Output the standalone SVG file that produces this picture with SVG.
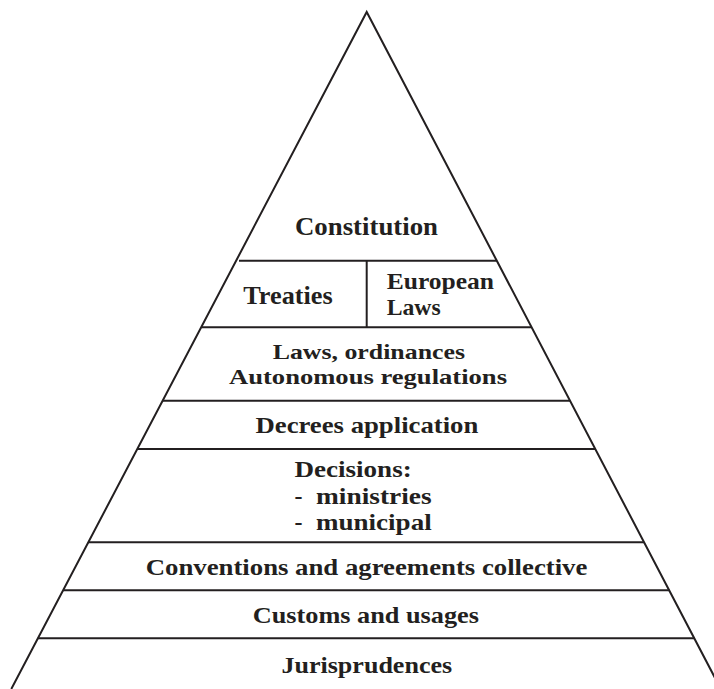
<svg xmlns="http://www.w3.org/2000/svg" width="714" height="689" viewBox="0 0 714 689">
  <style>
    .edge { stroke: #231f20; stroke-width: 2; fill: none; stroke-linecap: butt; }
    .lbl { font-family: "Liberation Serif", "Times New Roman", serif; font-weight: bold; font-size: 24px; fill: #231f20; }
    .big { font-size: 25px; }
    .tight { font-size: 22px; }
  </style>
  <rect x="0" y="0" width="714" height="689" fill="#ffffff"/>

  <!-- outline of the pyramid and the band dividers -->
  <g id="connectors">
    <polyline class="edge" points="11.3,689 366.7,12 720.8,689"/>
    <line class="edge" x1="239" y1="260.7" x2="496.8" y2="260.7"/>
    <line class="edge" x1="201.2" y1="327.3" x2="531.6" y2="327.3"/>
    <line class="edge" x1="366.7" y1="260.7" x2="366.7" y2="327.3"/>
    <line class="edge" x1="162.6" y1="400.7" x2="570" y2="400.7"/>
    <line class="edge" x1="137.3" y1="449" x2="595.2" y2="449"/>
    <line class="edge" x1="88.3" y1="542.3" x2="644" y2="542.3"/>
    <line class="edge" x1="63.1" y1="590.3" x2="669.2" y2="590.3"/>
    <line class="edge" x1="37.9" y1="638.3" x2="694.3" y2="638.3"/>
  </g>

  <g id="constitution">
    <text class="lbl big" x="295" y="235" textLength="143" lengthAdjust="spacingAndGlyphs">Constitution</text>
  </g>

  <g id="treaties">
    <text class="lbl big" x="243.3" y="304" textLength="89.4" lengthAdjust="spacingAndGlyphs">Treaties</text>
  </g>

  <g id="european-laws">
    <text class="lbl" x="386.7" y="289.3" textLength="107.3" lengthAdjust="spacingAndGlyphs">European</text>
    <text class="lbl" x="386.7" y="315" textLength="54" lengthAdjust="spacingAndGlyphs">Laws</text>
  </g>

  <g id="laws-ordinances">
    <text class="lbl tight" x="272.7" y="359" textLength="192.3" lengthAdjust="spacingAndGlyphs">Laws, ordinances</text>
    <text class="lbl tight" x="229" y="384" textLength="278" lengthAdjust="spacingAndGlyphs">Autonomous regulations</text>
  </g>

  <g id="decrees">
    <text class="lbl" x="255.5" y="432.8" textLength="222.8" lengthAdjust="spacingAndGlyphs">Decrees application</text>
  </g>

  <g id="decisions">
    <text class="lbl" x="294.5" y="477" textLength="117.2" lengthAdjust="spacingAndGlyphs">Decisions:</text>
    <text class="lbl" x="294.5" y="504">-</text>
    <text class="lbl" x="316" y="504" textLength="115.7" lengthAdjust="spacingAndGlyphs">ministries</text>
    <text class="lbl" x="294.5" y="530">-</text>
    <text class="lbl" x="316" y="530" textLength="115.7" lengthAdjust="spacingAndGlyphs">municipal</text>
  </g>

  <g id="conventions">
    <text class="lbl" x="145.7" y="575.3" textLength="441.7" lengthAdjust="spacingAndGlyphs">Conventions and agreements collective</text>
  </g>

  <g id="customs">
    <text class="lbl" x="252.7" y="623.3" textLength="226.3" lengthAdjust="spacingAndGlyphs">Customs and usages</text>
  </g>

  <g id="jurisprudences">
    <text class="lbl" x="281.4" y="673.3" textLength="170.8" lengthAdjust="spacingAndGlyphs">Jurisprudences</text>
  </g>
</svg>
